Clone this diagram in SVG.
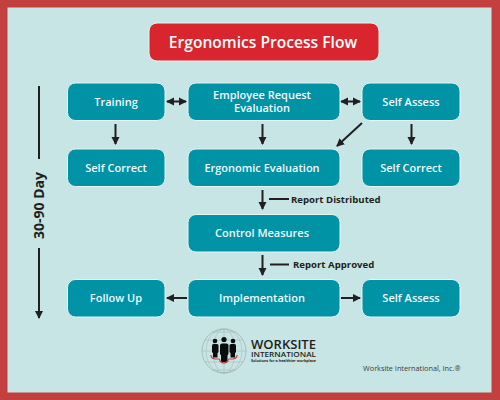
<svg xmlns="http://www.w3.org/2000/svg" width="500" height="400" viewBox="0 0 500 400">
<defs>
<marker id="a" markerUnits="userSpaceOnUse" markerWidth="9" markerHeight="9" refX="7" refY="4.5" orient="auto-start-reverse"><path d="M0 0.5L8 4.5L0 8.5z" fill="#231f20"/></marker>
</defs>
<style>
.n rect{fill:#0092a5;stroke:#e6f4f4;stroke-width:1}
.n text{fill:#f5fbfb;font:600 11px "Open Sans","Noto Sans",sans-serif;text-anchor:middle}
#connectors line{stroke:#231f20;stroke-width:2;fill:none}
.l{fill:#231f20;font:700 9.6px "Open Sans","Noto Sans",sans-serif}
</style>
<rect width="500" height="400" fill="#c44040"/>
<rect x="7.500" y="7.500" width="484" height="385" fill="#c8e5e5"/>
<g id="title"><rect x="149" y="23" width="230" height="38" rx="8" fill="#d9252e" stroke="#e6f4f4"/><text x="263" y="47.500" text-anchor="middle" fill="#fff" style="font:600 15.600px 'Open Sans',sans-serif">Ergonomics Process Flow</text></g>
<g id="connectors">
<line x1="39" y1="86" x2="39" y2="159"/>
<line x1="39" y1="248" x2="39" y2="318" marker-end="url(#a)"/>
<line x1="167" y1="101.500" x2="186" y2="101.500" marker-start="url(#a)" marker-end="url(#a)"/>
<line x1="341" y1="101.500" x2="360" y2="101.500" marker-start="url(#a)" marker-end="url(#a)"/>
<line x1="115.500" y1="124" x2="115.500" y2="144" marker-end="url(#a)"/>
<line x1="262.500" y1="124" x2="262.500" y2="144" marker-end="url(#a)"/>
<line x1="411.500" y1="124" x2="411.500" y2="144" marker-end="url(#a)"/>
<line x1="362" y1="123" x2="337" y2="146" marker-end="url(#a)"/>
<line x1="262.500" y1="190" x2="262.500" y2="209" marker-end="url(#a)"/>
<line x1="269" y1="199" x2="289" y2="199"/>
<line x1="262.500" y1="255" x2="262.500" y2="275" marker-end="url(#a)"/>
<line x1="270" y1="264.500" x2="289" y2="264.500"/>
<line x1="187" y1="298" x2="167" y2="298" marker-end="url(#a)"/>
<line x1="341" y1="298" x2="360" y2="298" marker-end="url(#a)"/>
</g>
<g id="training" class="n"><rect x="67.500" y="83" width="97.500" height="37.500" rx="8"/><text x="116" y="106">Training</text></g>
<g id="employee-request" class="n"><rect x="188" y="83" width="152" height="37.500" rx="8"/><text x="262" y="99">Employee Request</text><text x="262" y="112">Evaluation</text></g>
<g id="self-assess-1" class="n"><rect x="362" y="83" width="98" height="37.500" rx="8"/><text x="411" y="106">Self Assess</text></g>
<g id="self-correct-1" class="n"><rect x="67.500" y="149" width="97.500" height="37.500" rx="8"/><text x="116" y="172">Self Correct</text></g>
<g id="ergonomic-evaluation" class="n"><rect x="188" y="149" width="152" height="37.500" rx="8"/><text x="262" y="172">Ergonomic Evaluation</text></g>
<g id="self-correct-2" class="n"><rect x="362" y="149" width="98" height="37.500" rx="8"/><text x="411" y="172">Self Correct</text></g>
<g id="control-measures" class="n"><rect x="188" y="214.500" width="152" height="37.500" rx="8"/><text x="262" y="237">Control Measures</text></g>
<g id="follow-up" class="n"><rect x="67.500" y="279.500" width="97.500" height="37.500" rx="8"/><text x="116" y="302">Follow Up</text></g>
<g id="implementation" class="n"><rect x="188" y="279.500" width="152" height="37.500" rx="8"/><text x="262" y="302">Implementation</text></g>
<g id="self-assess-2" class="n"><rect x="362" y="279.500" width="98" height="37.500" rx="8"/><text x="411" y="302">Self Assess</text></g>
<text class="l" x="291" y="203">Report Distributed</text>
<text class="l" x="293" y="268">Report Approved</text>
<text x="44" y="205.500" transform="rotate(-90 44 205.500)" text-anchor="middle" fill="#231f20" style="font:700 14px 'Open Sans',sans-serif">30-90 Day</text>
<g id="logo">
<g fill="none" stroke="#9db3af" stroke-width=".5"><circle cx="224" cy="351" r="22" stroke-width=".8"/><ellipse cx="224" cy="351" rx="11" ry="22"/><ellipse cx="224" cy="351" rx="18" ry="22"/><path d="M202 351H246M205 340H243M205 362H243M212 332H236M212 370H236M224 329V373"/></g>
<g fill="#0c0c0c"><circle cx="215" cy="341" r="2.300"/><rect x="212" y="344" width="6.500" height="9" rx="1.500"/><rect x="213" y="351" width="4.500" height="6.500"/><circle cx="233" cy="341" r="2.300"/><rect x="229.500" y="344" width="6.500" height="9" rx="1.500"/><rect x="230.500" y="351" width="4.500" height="6.500"/><circle cx="224" cy="339.500" r="2.600"/><rect x="220" y="343.500" width="8.500" height="12" rx="2"/><rect x="221" y="354" width="6.500" height="8"/></g>
<path d="M211 355q0 3.500 4 4h4q1 0 1 2q4 4 8 0q0-2 1-2h4q4-.5 4-4" fill="none" stroke="#c44040" stroke-width="1.200"/>
<text x="251" y="349" fill="#231f20" style="font:600 12.500px 'Open Sans',sans-serif" textLength="65" lengthAdjust="spacingAndGlyphs">WORKSITE</text>
<text x="251" y="356.800" fill="#231f20" style="font:600 7px 'Open Sans',sans-serif" textLength="65" lengthAdjust="spacingAndGlyphs">INTERNATIONAL</text>
<text x="251" y="362" fill="#231f20" style="font:700 3.300px 'Open Sans',sans-serif" textLength="65" lengthAdjust="spacingAndGlyphs">Solutions for a healthier workplace</text>
</g>
<text x="363" y="370.500" fill="#3a3a3a" style="font:400 7.300px 'Open Sans',sans-serif">Worksite International, Inc.®</text>
</svg>
